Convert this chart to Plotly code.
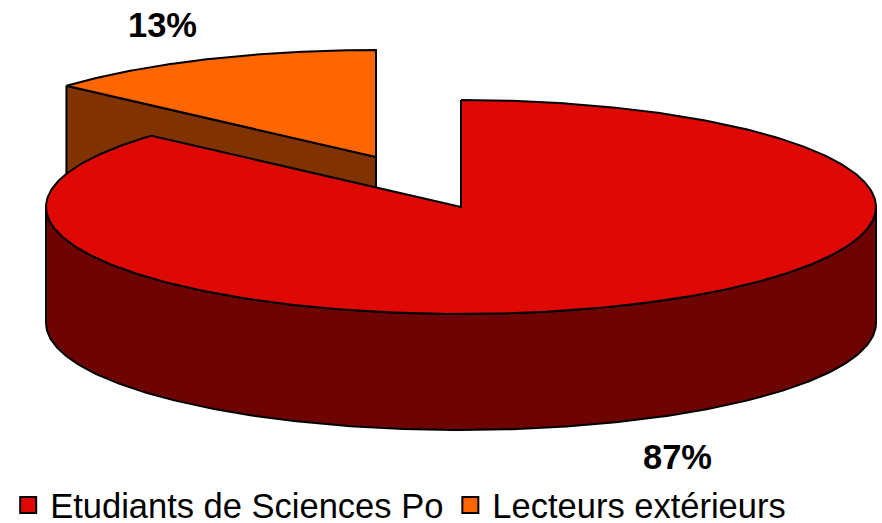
import numpy as np
import plotly.graph_objects as go

categories = ["Etudiants de Sciences Po", "Lecteurs extérieurs"]
values = [86.6, 13.4]
top_colors = ["#DE0804", "#FF6600"]
side_colors = ["#6E0402", "#803300"]

W, H = 882, 523
RX, RY, DEPTH = 415, 107, 116
RED_C = (461, 207)
ORANGE_C = (376, 157)
INK = "black"

shares = np.array(values) / sum(values)
red_end = shares[0] * 2 * np.pi


def rim(center, a0, a1, n=240, dy=0):
    t = np.linspace(a0, a1, n)
    return center[0] + RX * np.sin(t), center[1] - RY * np.cos(t) + dy


def poly(xs, ys, fill, name=None):
    return go.Scatter(x=list(xs), y=list(ys), mode="lines", fill="toself", fillcolor=fill,
                      line=dict(color=INK, width=2), showlegend=False, hoverinfo="skip", name=name)


fig = go.Figure()

# Orange slice: cut face, then top
ox, oy = rim(ORANGE_C, red_end, 2 * np.pi)
fig.add_trace(poly([ox[0], ORANGE_C[0], ORANGE_C[0], ox[0], ox[0]],
                   [oy[0], ORANGE_C[1], ORANGE_C[1] + DEPTH, oy[0] + DEPTH, oy[0]], side_colors[1]))
fig.add_trace(poly(list(ox) + [ORANGE_C[0], ox[0]], list(oy) + [ORANGE_C[1], oy[0]], top_colors[1], categories[1]))

# Red slice: outer wall, then top
wx, wy = rim(RED_C, np.pi / 2, 3 * np.pi / 2)
bx, by = rim(RED_C, 3 * np.pi / 2, np.pi / 2, dy=DEPTH)
fig.add_trace(poly(list(wx) + list(bx) + [wx[0]], list(wy) + list(by) + [wy[0]], side_colors[0]))
rx, ry = rim(RED_C, 0, red_end, n=480)
fig.add_trace(poly(list(rx) + [RED_C[0], rx[0]], list(ry) + [RED_C[1], ry[0]], top_colors[0], categories[0]))

# Legend entries
for name, col in zip(categories, top_colors):
    fig.add_trace(go.Scatter(x=[None], y=[None], mode="markers", name=name,
                             marker=dict(symbol="square", size=16, color=col, line=dict(color=INK, width=2))))

# Percentage labels
label_pos = [(677, 457), (162, 25)]
for v, (lx, ly) in zip(values, label_pos):
    fig.add_annotation(x=lx, y=ly, text=f"<b>{round(v)}%</b>", showarrow=False,
                       font=dict(family="Liberation Sans", size=34.5, color="black"))

fig.update_xaxes(range=[0, W], visible=False, fixedrange=True)
fig.update_yaxes(range=[H, 0], visible=False, fixedrange=True)
fig.update_layout(
    width=W, height=H, margin=dict(l=0, r=0, t=0, b=0, autoexpand=False),
    paper_bgcolor="white", plot_bgcolor="white",
    legend=dict(orientation="h", x=0.007, y=-0.021, xanchor="left", yanchor="bottom",
                font=dict(family="Liberation Sans", size=34.5, color="black"),
                bgcolor="rgba(0,0,0,0)", itemsizing="trace", itemwidth=34),
)
fig.write_html("out.html", config={"displayModeBar": False},
               post_script="document.body.style.margin='0';")
